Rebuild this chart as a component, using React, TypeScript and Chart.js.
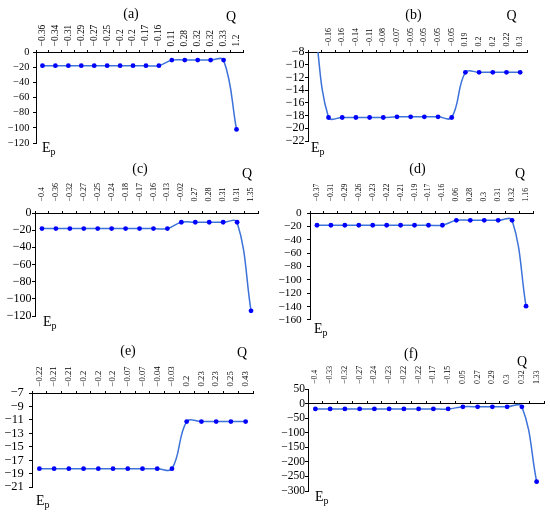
import React, { useEffect, useRef } from 'react';
import { Chart, registerables } from 'chart.js';

Chart.register(...registerables);

const FONT = '"Liberation Serif", "Times New Roman", serif';
const LINE_COLOR = '#3c72d9';
const POINT_COLOR = '#0000ff';

// ---------- data ----------
// (a)
const qA = [-0.36, -0.34, -0.31, -0.29, -0.27, -0.25, -0.2, -0.2, -0.17, -0.16, 0.11, 0.28, 0.32, 0.32, 0.33, 1.2];
const epA = [-18, -18, -18, -18, -18, -18, -18, -18, -18, -18, -10.7, -10.7, -10.7, -10.7, -10.7, -102];
const yRangeA = [-120, 0];
const yStepA = 20;

// (b) first category has no label, its point lies above the plotted range
const qB = [null, -0.16, -0.16, -0.14, -0.11, -0.08, -0.07, -0.05, -0.05, -0.05, -0.05, 0.19, 0.2, 0.2, 0.22, 0.3];
const epB = [-4, -18.3, -18.3, -18.3, -18.3, -18.3, -18.2, -18.2, -18.2, -18.2, -18.3, -11.2, -11.2, -11.2, -11.2, -11.2];
const yRangeB = [-22, -8];
const yStepB = 2;

// (c)
const qC = [-0.4, -0.36, -0.32, -0.27, -0.25, -0.24, -0.18, -0.17, -0.16, -0.13, -0.02, 0.27, 0.28, 0.31, 0.31, 1.35];
const epC = [-18.2, -18.2, -18.2, -18.2, -18.2, -18.2, -18.2, -18.2, -18.2, -18.2, -10.8, -10.8, -10.8, -10.8, -10.8, -114];
const yRangeC = [-120, 0];
const yStepC = 20;

// (d)
const qD = [-0.37, -0.31, -0.29, -0.26, -0.23, -0.22, -0.21, -0.19, -0.17, -0.16, 0.06, 0.28, 0.3, 0.31, 0.32, 1.16];
const epD = [-18.3, -18.3, -18.3, -18.3, -18.3, -18.3, -18.3, -18.3, -18.3, -18.3, -11, -11, -11, -11, -11, -139.5];
const yRangeD = [-160, 0];
const yStepD = 20;

// (e)
const qE = [-0.22, -0.21, -0.21, -0.2, -0.2, -0.2, -0.07, -0.07, -0.04, -0.03, 0.2, 0.23, 0.23, 0.25, 0.43];
const epE = [-18.25, -18.25, -18.25, -18.25, -18.25, -18.25, -18.25, -18.25, -18.25, -18.25, -11.25, -11.25, -11.25, -11.25, -11.25];
const yRangeE = [-21, -7];
const yStepE = 2;

// (f)
const qF = [-0.4, -0.33, -0.32, -0.27, -0.24, -0.23, -0.22, -0.22, -0.17, -0.15, 0.05, 0.27, 0.29, 0.3, 0.32, 1.33];
const epF = [-18.5, -18.5, -18.5, -18.5, -18.5, -18.5, -18.5, -18.5, -18.5, -18.5, -11, -11, -11, -11, -11, -268];
const yRangeF = [-300, 50];
const yStepF = 50;

const panelTitles = ['(a)', '(b)', '(c)', '(d)', '(e)', '(f)'];

// ---------- layout (positions / sizes only) ----------
const LY = 40; // room for y tick labels
const TX = 40; // room for rotated x tick labels
const PAD_R = 6;
const PAD_B = 8;

type Panel = {
  title: string;
  q: (number | null)[];
  ep: number[];
  yRange: number[];
  yStep: number;
  axisAt: number;
  area: { l: number; t: number; w: number; h: number };
  labelPad: number;
  xFont: number;
  yFont: number;
  yPad: number;
  titlePos: [number, number];
  qPos: [number, number];
  epPos: [number, number];
};

const PANELS: Panel[] = [
  { title: panelTitles[0], q: qA, ep: epA, yRange: yRangeA, yStep: yStepA, axisAt: 0,
    area: { l: 35.9, t: 52.3, w: 207, h: 93 }, labelPad: 5.6, xFont: 9.4, yFont: 10.3, yPad: 3.7,
    titlePos: [131, 13.5], qPos: [231, 17], epPos: [42, 143] },
  { title: panelTitles[1], q: qB, ep: epB, yRange: yRangeB, yStep: yStepB, axisAt: -8,
    area: { l: 307.8, t: 52.3, w: 219, h: 89 }, labelPad: 5.6, xFont: 7.9, yFont: 12, yPad: 0.5,
    titlePos: [413.5, 15], qPos: [511.5, 16], epPos: [311, 143] },
  { title: panelTitles[2], q: qC, ep: epC, yRange: yRangeC, yStep: yStepC, axisAt: 0,
    area: { l: 34.7, t: 213.3, w: 223, h: 103 }, labelPad: 11.6, xFont: 7.9, yFont: 12, yPad: 0.5,
    titlePos: [140, 169], qPos: [247, 174], epPos: [43, 317] },
  { title: panelTitles[3], q: qD, ep: epD, yRange: yRangeD, yStep: yStepD, axisAt: 0,
    area: { l: 309.7, t: 213.3, w: 223, h: 111 }, labelPad: 11.6, xFont: 7.7, yFont: 11.3, yPad: 5.3,
    titlePos: [417.5, 169], qPos: [520, 174], epPos: [314, 324] },
  { title: panelTitles[4], q: qE, ep: epE, yRange: yRangeE, yStep: yStepE, axisAt: -7,
    area: { l: 32, t: 393.3, w: 221, h: 99 }, labelPad: 6.6, xFont: 8.7, yFont: 12.5, yPad: 5.3,
    titlePos: [128, 351], qPos: [242, 353], epPos: [36, 496.5] },
  { title: panelTitles[5], q: qF, ep: epF, yRange: yRangeF, yStep: yStepF, axisAt: 0,
    area: { l: 308.3, t: 389, w: 236, h: 102 }, labelPad: 5, xFont: 7.8, yFont: 11.5, yPad: 0,
    titlePos: [411, 354], qPos: [522, 362], epPos: [315, 492] },
];

const fmtNum = (v: number | null) => (v === null ? '' : v < 0 ? '\u2212' + String(Math.abs(v)) : String(v));

function PanelChart({ p }: { p: Panel }) {
  const ref = useRef<HTMLCanvasElement>(null);
  const cw = p.area.w + LY + PAD_R;
  const chh = p.area.h + TX + PAD_B;

  useEffect(() => {
    const canvas = ref.current;
    if (!canvas) return;
    const chart = new Chart(canvas, {
      type: 'line',
      data: {
        labels: p.q.map(fmtNum),
        datasets: [
          {
            data: p.ep,
            borderColor: LINE_COLOR,
            borderWidth: 1.5,
            pointBackgroundColor: POINT_COLOR,
            pointBorderColor: POINT_COLOR,
            pointBorderWidth: 0,
            pointRadius: 2.4,
            tension: 0.4,
            xAxisID: 'x',
            yAxisID: 'y',
          },
        ],
      },
      options: {
        animation: false,
        responsive: false,
        maintainAspectRatio: false,
        layout: { padding: { left: 0, top: 0, right: PAD_R, bottom: PAD_B } },
        plugins: { legend: { display: false }, tooltip: { enabled: false }, title: { display: false } },
        scales: {
          x: {
            type: 'category',
            position: 'top',
            offset: true,
            grid: { display: false, drawTicks: false },
            border: { display: false },
            ticks: {
              minRotation: 90,
              maxRotation: 90,
              autoSkip: false,
              padding: p.labelPad,
              labelOffset: p.xFont * 1.2,
              color: '#000',
              font: { family: FONT, size: p.xFont, lineHeight: 1.2 },
            },
            afterFit: (s: any) => {
              s.height = TX;
            },
          },
          x2: {
            type: 'category',
            axis: 'x',
            position: { y: p.axisAt },
            offset: true,
            grid: { offset: true, drawOnChartArea: false, drawTicks: true, tickLength: -3, color: '#000', lineWidth: 1 },
            border: { display: true, color: '#000', width: 1 },
            ticks: { display: false },
          },
          y: {
            type: 'linear',
            position: 'left',
            min: p.yRange[0],
            max: p.yRange[1],
            ticks: {
              stepSize: p.yStep,
              autoSkip: false,
              callback: (v: any) => fmtNum(Number(v)),
              color: '#000',
              font: { family: FONT, size: p.yFont },
              padding: p.yPad,
            },
            grid: { drawOnChartArea: false, drawTicks: true, tickLength: 3, color: '#000' },
            border: { display: true, color: '#000', width: 1 },
            afterFit: (s: any) => {
              s.width = LY;
            },
          },
        },
      } as any,
    });
    return () => chart.destroy();
  }, []);

  return (
    <canvas
      ref={ref}
      width={cw}
      height={chh}
      style={{
        position: 'absolute',
        left: p.area.l - LY,
        top: p.area.t - TX,
        width: cw,
        height: chh,
      }}
    />
  );
}

const textBase: React.CSSProperties = {
  position: 'absolute',
  fontFamily: FONT,
  fontSize: 14,
  lineHeight: 1,
  color: '#000',
  whiteSpace: 'nowrap',
};

export default function App() {
  return (
    <div style={{ position: 'absolute', left: 0, top: 0, width: 550, height: 512, background: '#fff', overflow: 'hidden' }}>
      {PANELS.map((p, i) => (
        <React.Fragment key={i}>
          <PanelChart p={p} />
          <div style={{ ...textBase, left: p.titlePos[0], top: p.titlePos[1], transform: 'translate(-50%, -50%)' }}>{p.title}</div>
          <div style={{ ...textBase, left: p.qPos[0], top: p.qPos[1], transform: 'translate(-50%, -50%)' }}>Q</div>
          <div style={{ ...textBase, left: p.epPos[0], top: p.epPos[1] - 2.5 }}>
            E<sub style={{ fontSize: 10, verticalAlign: 'baseline', position: 'relative', top: 3 }}>p</sub>
          </div>
        </React.Fragment>
      ))}
    </div>
  );
}
